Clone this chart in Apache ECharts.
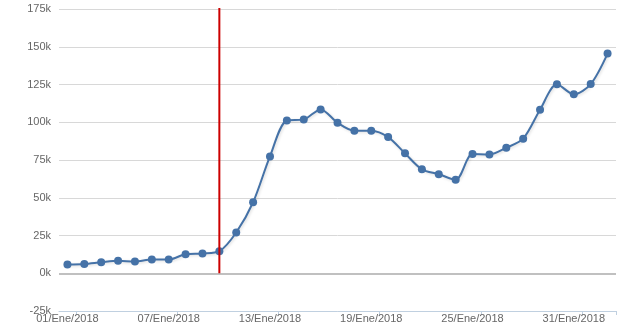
<!DOCTYPE html>
<html><head><meta charset="utf-8">
<script src="https://cdn.jsdelivr.net/npm/echarts@6/dist/echarts.min.js"></script>
<style>html,body{margin:0;padding:0;background:#fff}#c{width:628px;height:333px}</style>
</head><body><div id="c"></div>
<script>
var categories = ["01/Ene/2018","02/Ene/2018","03/Ene/2018","04/Ene/2018","05/Ene/2018","06/Ene/2018","07/Ene/2018","08/Ene/2018","09/Ene/2018","10/Ene/2018","11/Ene/2018","12/Ene/2018","13/Ene/2018","14/Ene/2018","15/Ene/2018","16/Ene/2018","17/Ene/2018","18/Ene/2018","19/Ene/2018","20/Ene/2018","21/Ene/2018","22/Ene/2018","23/Ene/2018","24/Ene/2018","25/Ene/2018","26/Ene/2018","27/Ene/2018","28/Ene/2018","29/Ene/2018","30/Ene/2018","31/Ene/2018","01/Feb/2018","02/Feb/2018"];
var values = [5800,6200,7300,8200,7700,9100,9100,12600,13100,14600,27000,47000,77400,101200,101900,108500,99700,94400,94400,90200,79400,68800,65600,61900,78900,78700,83100,89100,108300,125100,118500,125300,145500];
var markerDate = "10/Ene/2018";
var markerTop = 177000;
var yMin = -25000, yMax = 175000, yStep = 25000;

var chart = echarts.init(document.getElementById('c'), null, {renderer:'canvas'});
var font = 'Liberation Sans';
var mi = categories.indexOf(markerDate);
chart.setOption({
  animation: false,
  grid: {left: 59, right: 12, top: 9, bottom: 22, containLabel: false},
  xAxis: {
    type: 'category', data: categories, boundaryGap: true,
    axisLine: {show: true, onZero: false, lineStyle: {color: '#C0D0E0', width: 1}},
    axisTick: {show: true, length: 4, lineStyle: {color: '#C0D0E0'}, interval: function(i){ return i % 6 === 1; }},
    axisLabel: {interval: function(i){ return i % 6 === 0; }, color: '#666', fontFamily: font, fontSize: 11, margin: 2},
    splitLine: {show: false}
  },
  yAxis: {
    type: 'value', min: yMin, max: yMax, interval: yStep,
    axisLine: {show: false}, axisTick: {show: false},
    axisLabel: {color: '#666', fontFamily: font, fontSize: 11, margin: 8,
      formatter: function(v){ return (v/1000) + 'k'; }},
    splitLine: {lineStyle: {color: '#D8D8D8', width: 1}}
  },
  series: [{
    type: 'line', data: values, smooth: 0.3,
    symbol: 'circle', symbolSize: 8,
    itemStyle: {color: '#4572A7'},
    lineStyle: {color: '#4572A7', width: 2, shadowColor: 'rgba(0,0,0,0.15)', shadowBlur: 3, shadowOffsetX: 1, shadowOffsetY: 1},
    z: 3,
    markLine: {
      silent: true, symbol: 'none', animation: false, label: {show: false},
      lineStyle: {color: '#C0C0C0', width: 2, type: 'solid'},
      data: [{yAxis: 0}]
    }
  }, {
    type: 'line', data: [[mi, 0], [mi, markerTop]],
    symbol: 'none', silent: true, z: 8, zlevel: 1,
    lineStyle: {color: '#CC0000', width: 2}
  }]
});
</script></body></html>
